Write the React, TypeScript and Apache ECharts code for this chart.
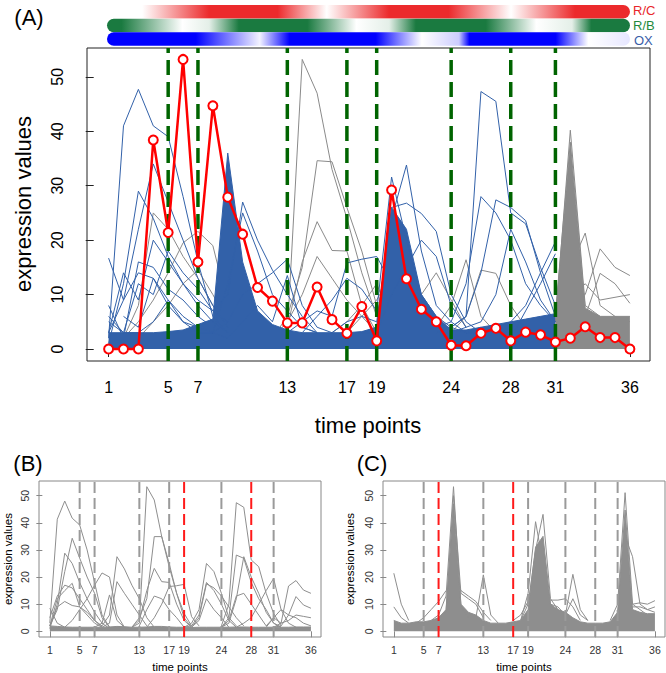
import React, { useEffect, useRef } from "react";
import * as echarts from "echarts";

// ---------- DATA ----------
const timePoints = [1, 2, 3, 4, 5, 6, 7, 8, 9, 10, 11, 12, 13, 14, 15, 16, 17, 18, 19, 20, 21, 22, 23, 24, 25, 26, 27, 28, 29, 30, 31, 32, 33, 34, 35, 36];
const xTickLabels = [1, 5, 7, 13, 17, 19, 24, 28, 31, 36];
const yTickLabels = [0, 10, 20, 30, 40, 50];

const dashA = [5, 7, 13, 17, 19, 24, 28, 31];
const dashBGray = [5, 7, 13, 17, 24, 31];
const dashBRed = [19, 28];
const dashCGray = [5, 13, 19, 24, 28, 31];
const dashCRed = [7, 17];

// representative profile (red, panel A)
const redProfile = [0, 0, 0, 38.4, 21.4, 53.2, 16.0, 44.7, 27.9, 21.1, 11.3, 8.8, 4.8, 4.8, 11.4, 5.4, 2.9, 7.8, 1.5, 29.2, 12.9, 7.3, 5.0, 0.7, 0.6, 2.9, 3.8, 1.5, 3.1, 2.6, 1.3, 2.0, 4.1, 2.1, 2.1, 0];

// panel A: dense envelopes (upper edge of the densely packed profiles)
const blueDense = { t0: 1, v: [3, 3, 3, 3, 3.2, 3.5, 4.5, 5.5, 36, 16, 7, 4.5, 3.5, 3, 3, 3, 3, 3.2, 4, 26, 22, 10, 6, 3.5, 3.5, 4, 4.5, 5, 5.5, 6, 6.5] };
const grayDenseA = { t0: 31, v: [6.5, 38, 7.5, 6, 6, 6] };

// panel A: individual blue profiles
const blueA01 = { t0: 1, v: [2, 41, 47.7, 41, 39, 28, 16, 6, 3] };
const blueA02 = { t0: 1, v: [16.7, 9, 14, 13, 9, 6, 4, 3] };
const blueA03 = { t0: 1, v: [3, 9, 22, 34, 27, 20, 13, 8, 4] };
const blueA04 = { t0: 1, v: [1, 12, 29, 24, 17, 12, 8, 5, 3] };
const blueA05 = { t0: 1, v: [8, 2, 16, 15, 11, 9, 6, 4, 3] };
const blueA06 = { t0: 1, v: [3, 14, 9, 20, 16, 12, 9, 7, 5] };
const blueA07 = { t0: 1, v: [5, 3, 12, 10, 18, 14, 11, 7, 10, 27, 20, 14.5, 10, 6, 3] };
const blueA08 = { t0: 2, v: [6, 4, 13, 8, 5, 3, 3, 12, 25, 18, 10, 7, 4, 3] };
const blueA09 = { t0: 1, v: [6, 3, 3, 5, 9, 5, 4, 3, 2, 5, 8, 5, 13.5, 4, 3] };
const blueA10 = { t0: 13, v: [3, 5, 7, 6, 15.8, 16.5, 17, 12, 8, 5, 3] };
const blueA11 = { t0: 14, v: [3, 6, 9, 13, 11, 7, 31.6, 20, 10, 6, 4, 3] };
const blueA12 = { t0: 16, v: [3, 5, 6, 5, 24, 33.8, 18, 8, 5, 3] };
const blueA13 = { t0: 18, v: [3, 4, 26, 26.8, 24.9, 21.6, 10, 5, 3] };
const blueA14 = { t0: 23, v: [3, 4, 6, 47.3, 45.5, 25, 23, 15, 8] };
const blueA15 = { t0: 23, v: [4, 5, 12, 28, 25, 20, 12, 8, 5] };
const blueA16 = { t0: 23, v: [4, 4, 6, 14, 27.4, 26, 23.6, 14, 6] };
const blueA17 = { t0: 25, v: [3, 3, 4, 5, 8, 14, 19.7] };
const blueA18 = { t0: 24, v: [3, 4, 5, 10, 22, 16, 9, 5] };
const blueA19 = { t0: 18, v: [3, 3, 10, 15, 20, 17, 8, 4] };
const blueA20 = { t0: 25, v: [3, 4, 3, 2, 7, 12, 17.5] };
const blueA21 = { t0: 7, v: [3, 3, 5, 10, 12, 14, 16.5, 8, 4, 3] };
const blueProfilesA = [blueA01, blueA02, blueA03, blueA04, blueA05, blueA06, blueA07, blueA08, blueA09, blueA10, blueA11, blueA12, blueA13, blueA14, blueA15, blueA16, blueA17, blueA18, blueA19, blueA20, blueA21];

// panel A: individual gray profiles
const grayA01 = { t0: 12, v: [2, 3, 53.2, 47, 33, 24, 14, 6, 3] };
const grayA02 = { t0: 12, v: [2, 6, 15, 34.6, 34.4, 26, 18, 8, 3] };
const grayA03 = { t0: 12, v: [2, 4, 16, 23.4, 18.1, 18, 8, 3] };
const grayA04 = { t0: 12, v: [2, 5, 10, 17, 13, 9, 6, 3] };
const grayA05 = { t0: 2, v: [2, 5, 9, 14, 19.5, 21.6, 19, 8, 4] };
const grayA06 = { t0: 3, v: [2, 5, 8, 12, 14.5, 10, 5, 3] };
const grayA07 = { t0: 2, v: [2, 8, 25, 22, 17, 13, 8, 4] };
const grayA08 = { t0: 22, v: [3, 4, 8, 16.4, 6, 3] };
const grayA09 = { t0: 23, v: [3, 3, 6, 14.5, 13.9, 8, 4, 3] };
const grayA10 = { t0: 30, v: [4, 5, 12, 10, 18.4, 15, 13.5] };
const grayA11 = { t0: 30, v: [4, 6, 15, 21.3, 8, 6, 5] };
const grayA12 = { t0: 31, v: [5, 7, 6, 13.9, 12, 8.4] };
const grayA13 = { t0: 16, v: [3, 5, 8, 12, 5, 3] };
const grayA14 = { t0: 30, v: [5, 6, 9, 12, 9, 9.5, 10] };
const grayA15 = { t0: 17, v: [3, 6, 9, 14, 7, 3] };
const grayA16 = { t0: 19, v: [3, 4, 8, 10, 14, 9, 4] };
const grayA17 = { t0: 31, v: [5, 40.2, 8, 6] };
const grayProfilesA = [grayA01, grayA02, grayA03, grayA04, grayA05, grayA06, grayA07, grayA08, grayA09, grayA10, grayA11, grayA12, grayA13, grayA14, grayA15, grayA16, grayA17];

// panel B
const grayDenseB = { t0: 1, v: [2, 1.8, 1.6, 1.5, 1.5, 1.5, 1.5, 1.5, 1.6, 1.8, 1.7, 1.5, 1.5, 1.6, 1.8, 1.8, 1.6, 1.5, 1.5, 1.4, 1.5, 1.5, 1.5, 1.5, 1.5, 1.6, 1.6, 1.5, 1.5, 1.5, 1.5, 1.5, 1.5, 1.6, 1.6, 1.6] };
const b01 = { t0: 1, v: [3, 41.3, 48, 41.7, 39.2, 30, 18, 6, 1.5] };
const b02 = { t0: 1, v: [2, 8, 22, 34.3, 27, 20, 14, 5, 1.5] };
const b03 = { t0: 1, v: [1, 10, 28.8, 25, 18, 12, 7, 3, 1] };
const b04 = { t0: 3, v: [1.5, 4, 8, 12, 17, 21.5, 20, 6, 1.5] };
const b05 = { t0: 8, v: [2, 6, 27.5, 23, 17, 12, 5, 1.5] };
const b06 = { t0: 8, v: [1.5, 3, 18.3, 14, 10, 6, 2] };
const b07 = { t0: 12, v: [1.5, 3, 53.3, 48.4, 34.9, 25, 14, 6.6, 2] };
const b08 = { t0: 12, v: [1.5, 5, 12, 34.9, 34.9, 23.8, 14, 5, 1.5] };
const b09 = { t0: 12, v: [1.5, 4, 15, 23.2, 18.3, 18, 10, 4, 1.5] };
const b10 = { t0: 14, v: [1.5, 5, 10, 16.5, 16.8, 17.3, 5.4, 2] };
const b11 = { t0: 19, v: [1.5, 3, 8, 25, 22, 14, 5, 2] };
const b12 = { t0: 19, v: [1.5, 2, 6, 18, 15, 10, 4, 1.5] };
const b13 = { t0: 24, v: [2, 10, 47.4, 45.7, 26.3, 23.8, 14, 6.6, 2] };
const b14 = { t0: 24, v: [1.5, 5, 28.1, 26.9, 18, 12, 8, 3, 1.5] };
const b15 = { t0: 24, v: [1.5, 3, 12, 27.5, 20, 14, 7, 3, 1.5] };
const b16 = { t0: 26, v: [1.5, 3, 5, 10, 15, 19.5, 8, 3, 1.5] };
const b17 = { t0: 30, v: [1.5, 5, 3, 16.7, 18.7, 15.2, 14] };
const b18 = { t0: 31, v: [1.5, 2, 6, 12.8, 9.7, 8.5] };
const b19 = { t0: 1, v: [8.5, 3, 1.5] };
const b20 = { t0: 1, v: [2, 12, 15, 17.7, 9, 6, 3, 1.5] };
const b21 = { t0: 13, v: [2, 8, 13, 12, 8, 5, 1.5] };
const b22 = { t0: 24, v: [1.5, 4, 13, 14, 10, 6, 2] };
const b23 = { t0: 20, v: [1.5, 4, 12, 8, 5, 1.5] };
const b24 = { t0: 31, v: [1.5, 3, 4, 6, 5.5, 5] };
const b25 = { t0: 1, v: [2, 9, 11, 9.5, 9, 7, 4, 1.5] };
const b26 = { t0: 7, v: [1.5, 3, 13.4, 4, 1.5] };
const b27 = { t0: 1, v: [5, 13, 17, 16, 12, 8, 4, 2] };
const b28 = { t0: 20, v: [1.5, 5, 17.5, 16, 13, 9, 5, 2] };
const b29 = { t0: 30, v: [2, 5, 8, 6, 5, 3, 2] };
const profilesB = [b01, b02, b03, b04, b05, b06, b07, b08, b09, b10, b11, b12, b13, b14, b15, b16, b17, b18, b19, b20, b21, b22, b23, b24, b25, b26, b27, b28, b29];

// panel C
const grayDenseC = { t0: 1, v: [4, 3, 3, 3.5, 3.5, 4, 5, 8, 47, 10, 7, 6, 4, 3, 3, 3, 3.5, 4, 8, 31, 35, 10, 8, 7, 5, 3.5, 3, 3, 3, 3.5, 7, 44.7, 8, 7, 6.5, 6.5] };
const c01 = { t0: 1, v: [21.4, 10, 4] };
const c02 = { t0: 1, v: [9, 5, 3] };
const c03 = { t0: 6, v: [4, 6, 13, 53.3, 9, 5] };
const c04 = { t0: 7, v: [5, 7, 50, 14, 12, 10, 5] };
const c05 = { t0: 9, v: [20, 15, 13, 11, 7, 4] };
const c06 = { t0: 12, v: [5, 20.8, 6, 3] };
const c07 = { t0: 18, v: [4, 14, 40.4, 25, 10, 5] };
const c08 = { t0: 18, v: [4, 10, 30, 43.1, 12, 8, 5] };
const c09 = { t0: 21, v: [12, 11.5, 11.5, 12, 9, 4] };
const c10 = { t0: 23, v: [5, 6, 21, 8, 4] };
const c11 = { t0: 30, v: [4, 10, 51.1, 10, 8, 6] };
const c12 = { t0: 31, v: [6, 35, 27.5, 10, 8, 7] };
const c13 = { t0: 32, v: [20, 10, 10.5, 10, 11.3] };
const c14 = { t0: 4, v: [3, 5, 8, 11, 15] };
const c15 = { t0: 17, v: [4, 6, 11, 15] };
const c16 = { t0: 22, v: [10, 9, 6, 12, 6, 4] };
const c17 = { t0: 33, v: [9, 9, 8, 9] };
const profilesC = [c01, c02, c03, c04, c05, c06, c07, c08, c09, c10, c11, c12, c13, c14, c15, c16, c17];

// colour-band intensities along time (0 = white, 1 = full colour)
const rcLevels = [[0.93, 0], [3.3, 0], [7.8, 1], [12.4, 1], [15.7, 0], [19.9, 1], [23.9, 1], [28.1, 0], [32.4, 1], [36.1, 1]];
const rbLevels = [[0.93, 1], [1.9, 1], [6, 0], [7.8, 0.12], [9.8, 1], [14.4, 1], [17.7, 0], [19.9, 0.12], [21.7, 1], [26.4, 1], [29.8, 0], [32.2, 0.12], [33.5, 1], [36.1, 1]];
const oxLevels = [[0.93, 1], [6.9, 1], [11.2, 0.05], [13.2, 1], [19, 1], [22.1, 0], [24.6, 0.2], [25.3, 1], [31.1, 1], [33.3, 0], [36.1, 0.1]];

// ---------- STYLE ----------
const FONT = '"Liberation Sans", Arial, Helvetica, sans-serif';
const BLUE = "#3261a9";
const GRAY_A = "#8a8a8a";
const GRAY_BC = "#8e8e8e";

function mix(hex: string, f: number) {
  const r = parseInt(hex.slice(1, 3), 16), g = parseInt(hex.slice(3, 5), 16), b = parseInt(hex.slice(5, 7), 16);
  const m = (c: number) => Math.round(255 + (c - 255) * f);
  return `rgb(${m(r)},${m(g)},${m(b)})`;
}
function gradient(levels: number[][], hex: string) {
  const a = levels[0][0], b = levels[levels.length - 1][0];
  return new echarts.graphic.LinearGradient(0, 0, 1, 0,
    levels.map(([t, f]) => ({ offset: (t - a) / (b - a), color: mix(hex, f) })));
}

function lineS(seg: any, gi: number, color: string, z: number, width = 1) {
  return {
    type: "line", xAxisIndex: gi, yAxisIndex: gi, silent: true, z,
    data: seg.v.map((v: number, i: number) => [seg.t0 + i, v]),
    symbol: "none", lineStyle: { color, width }, animation: false,
  };
}
function areaS(seg: any, gi: number, color: string, z: number) {
  return { ...lineS(seg, gi, color, z), areaStyle: { color, opacity: 1 } };
}
function dashS(t: number, gi: number, color: string, width: number, dash: number[], z: number, y0: number, y1: number) {
  return {
    type: "line", xAxisIndex: gi, yAxisIndex: gi, silent: true, z,
    data: [[t, y0], [t, y1]], symbol: "none",
    lineStyle: { color, width, type: dash }, animation: false,
  };
}

function axes(gi: number, xmin: number, ymin: number, ymax: number, fs: number, tick: number, xm: number, ym: number, lineColor: string, labelColor: string) {
  const common = {
    gridIndex: gi, type: "value", axisLine: { show: false }, splitLine: { show: false },
  };
  return {
    x: {
      ...common, min: xmin, max: 37.35,
      axisTick: { show: true, length: tick, customValues: xTickLabels, lineStyle: { color: lineColor } },
      axisLabel: { customValues: xTickLabels, fontSize: fs, margin: xm, color: labelColor, fontFamily: FONT },
    },
    y: {
      ...common, min: ymin, max: ymax,
      axisTick: { show: true, length: tick, customValues: yTickLabels, lineStyle: { color: lineColor } },
      axisLabel: { customValues: yTickLabels, fontSize: fs, margin: ym, rotate: 90, color: labelColor, fontFamily: FONT },
    },
  };
}

export default function App() {
  const ref = useRef<HTMLDivElement>(null);
  useEffect(() => {
    if (!ref.current) return;
    const chart = echarts.init(ref.current, undefined, { renderer: "svg" });
    const aA = axes(0, -0.45, -2.2, 55.3, 16, 8, 18, 22, "#222", "#000");
    const aB = axes(1, -0.45, -2.1, 55.4, 10.5, 6, 7, 9, "#888", "#333");
    const aC = axes(2, -0.45, -2.1, 55.4, 10.5, 6, 7, 9, "#888", "#333");

    const series: any[] = [];
    // panel A
    grayProfilesA.forEach((s) => series.push(lineS(s, 0, GRAY_A, 1)));
    series.push(areaS(blueDense, 0, BLUE, 2));
    blueProfilesA.forEach((s) => series.push(lineS(s, 0, BLUE, 3)));
    series.push(areaS(grayDenseA, 0, GRAY_A, 3));
    dashA.forEach((t) => series.push(dashS(t, 0, "#006400", 3.5, [15, 7], 4, -2.2, 55.3)));
    series.push({
      type: "line", xAxisIndex: 0, yAxisIndex: 0, silent: true, z: 5,
      data: redProfile.map((v, i) => [timePoints[i], v]),
      symbol: "emptyCircle", symbolSize: 9,
      itemStyle: { color: "#ff0000", borderWidth: 2 },
      lineStyle: { color: "#ff0000", width: 2.5 }, animation: false,
    });
    // panel B
    series.push(areaS(grayDenseB, 1, GRAY_BC, 2));
    profilesB.forEach((s) => series.push(lineS(s, 1, GRAY_BC, 2)));
    dashBGray.forEach((t) => series.push(dashS(t, 1, "#9a9a9a", 2, [11, 5], 4, -2.1, 55.4)));
    dashBRed.forEach((t) => series.push(dashS(t, 1, "#ff1a1a", 2, [11, 5], 4, -2.1, 55.4)));
    // panel C
    series.push(areaS(grayDenseC, 2, GRAY_BC, 2));
    profilesC.forEach((s) => series.push(lineS(s, 2, GRAY_BC, 2)));
    dashCGray.forEach((t) => series.push(dashS(t, 2, "#9a9a9a", 2, [11, 5], 4, -2.1, 55.4)));
    dashCRed.forEach((t) => series.push(dashS(t, 2, "#ff1a1a", 2, [11, 5], 4, -2.1, 55.4)));

    const txt = (text: string, x: number, y: number, size: number, fill = "#000", rot = 0, align = "center") => ({
      type: "text", x, y, rotation: rot, silent: true,
      style: { text, fontSize: size, fontFamily: FONT, fill, align, verticalAlign: "middle" },
    });
    const bar = (y: number, levels: number[][], hex: string) => ({
      type: "rect", silent: true,
      shape: { x: 107, y, width: 523, height: 13.5, r: 6.75 },
      style: { fill: gradient(levels, hex) },
    });

    chart.setOption({
      animation: false,
      backgroundColor: "#ffffff",
      grid: [
        { left: 87, top: 48, width: 563, height: 313, show: true, borderColor: "#222", borderWidth: 1, outerBoundsMode: "none" },
        { left: 39, top: 481, width: 282, height: 156, show: true, borderColor: "#888", borderWidth: 1, outerBoundsMode: "none" },
        { left: 383, top: 481, width: 282, height: 156, show: true, borderColor: "#888", borderWidth: 1, outerBoundsMode: "none" },
      ],
      xAxis: [aA.x, aB.x, aC.x],
      yAxis: [aA.y, aB.y, aC.y],
      series,
      graphic: [
        bar(5, rcLevels, "#ec2a2c"),
        bar(18.7, rbLevels, "#1a7a40"),
        bar(32.3, oxLevels, "#0000ff"),
        txt("R/C", 633, 10, 13, "#e8262b", 0, "left"),
        txt("R/B", 633, 25, 13, "#1f8a3c", 0, "left"),
        txt("OX", 634, 40, 13, "#3a5da8", 0, "left"),
        txt("(A)", 29, 17, 22),
        txt("(B)", 28, 463, 22),
        txt("(C)", 372, 463, 22),
        txt("time points", 368, 425, 22),
        txt("expression values", 23, 204, 22, "#000", Math.PI / 2),
        txt("time points", 180, 667, 11.5),
        txt("expression values", 8, 559, 11.5, "#000", Math.PI / 2),
        txt("time points", 524, 667, 11.5),
        txt("expression values", 350, 559, 11.5, "#000", Math.PI / 2),
      ],
    });
    return () => chart.dispose();
  }, []);
  return <div ref={ref} style={{ position: "fixed", left: 0, top: 0, width: 666, height: 673 }} />;
}
